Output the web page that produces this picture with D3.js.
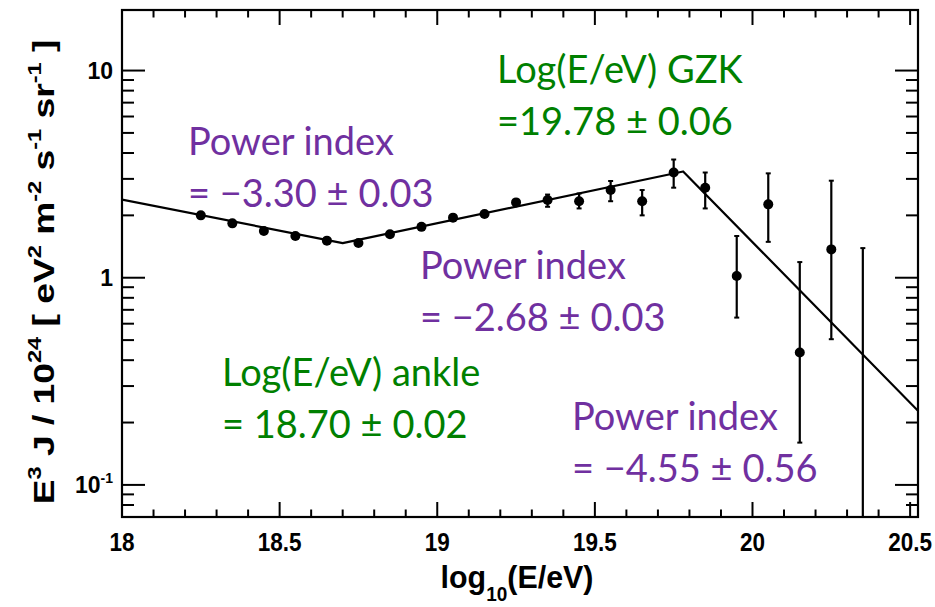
<!DOCTYPE html>
<html>
<head>
<meta charset="utf-8">
<script src="https://cdn.jsdelivr.net/npm/d3@7/dist/d3.min.js"></script>
<style>
  body { margin: 0; background: #fff; }
  svg { display: block; }
</style>
</head>
<body>
<svg id="chart" width="935" height="607"></svg>
<script>
// Energy bins, log10(E/eV)
const logE = [18.25, 18.35, 18.45, 18.55, 18.65, 18.75, 18.85, 18.95, 19.05, 19.15, 19.25,
              19.35, 19.45, 19.55, 19.65, 19.75, 19.85, 19.95, 20.05, 20.15, 20.25, 20.35];
// E^3 J / 10^24 [eV^2 m^-2 s^-1 sr^-1]
const flux = [2.00, 1.83, 1.68, 1.59, 1.51, 1.47, 1.62, 1.76, 1.95, 2.03, 2.31,
              2.37, 2.34, 2.65, 2.34, 3.22, 2.72, 1.02, 2.26, 0.436, 1.37, 0.05];
const fluxLow = [1.97, 1.80, 1.65, 1.56, 1.48, 1.44, 1.59, 1.73, 1.91, 1.98, 2.24,
                 2.20, 2.16, 2.34, 2.00, 2.72, 2.16, 0.642, 1.49, 0.160, 0.505, 0.01];
const fluxHigh = [2.03, 1.86, 1.71, 1.62, 1.54, 1.50, 1.65, 1.79, 1.99, 2.08, 2.38,
                  2.52, 2.55, 2.93, 2.65, 3.72, 3.22, 1.59, 3.19, 1.19, 2.94, 1.39];

// Broken power-law fit
const fitBreaks = [18.70, 19.78];          // ankle, GZK
const fitIndices = [-3.30, -2.68, -4.55];  // spectral indices of the three segments
const fitFluxAtAnkle = 1.47;

// Axes
const xRange = [18, 20.525];
const yRange = [0.07, 19.6];
const xTicks = [18, 18.5, 19, 19.5, 20, 20.5];
const xTickLabels = ["18", "18.5", "19", "19.5", "20", "20.5"];
const yTicks = [0.1, 1, 10];
const yTickLabels = [["10", "-1"], ["1", null], ["10", null]];

// Annotations
const notes = [
  { lines: ["Power index", "= \u22123.30 \u00b1 0.03"], color: "#7030a0", x: 188, y: 155 },
  { lines: ["Log(E/eV) GZK", "=19.78 \u00b1 0.06"], color: "#008000", x: 497, y: 83 },
  { lines: ["Power index", "= \u22122.68 \u00b1 0.03"], color: "#7030a0", x: 420, y: 279 },
  { lines: ["Log(E/eV) ankle", "= 18.70 \u00b1 0.02"], color: "#008000", x: 222, y: 386 },
  { lines: ["Power index", "= \u22124.55 \u00b1 0.56"], color: "#7030a0", x: 572, y: 430 }
];

const frame = { left: 122, top: 10, right: 918, bottom: 517 };

const svg = d3.select("#chart");

const x = d3.scaleLinear().domain(xRange).range([frame.left, frame.right]);
const y = d3.scaleLog().domain(yRange).range([frame.bottom, frame.top]);

const axisFont = "'Liberation Sans', Arial, Helvetica, sans-serif";
const noteFont = "Lato, 'Open Sans', sans-serif";

svg.append("defs").append("clipPath").attr("id", "plotClip")
  .append("rect")
  .attr("x", frame.left).attr("y", frame.top)
  .attr("width", frame.right - frame.left).attr("height", frame.bottom - frame.top);

// Fit curve
function fitValue(lx) {
  const [ankle, gzk] = fitBreaks;
  const s = fitIndices.map(g => 3 + g);
  const la = Math.log10(fitFluxAtAnkle);
  if (lx <= ankle) return Math.pow(10, la + s[0] * (lx - ankle));
  const lg = la + s[1] * (gzk - ankle);
  if (lx <= gzk) return Math.pow(10, la + s[1] * (lx - ankle));
  return Math.pow(10, lg + s[2] * (lx - gzk));
}
const fitX = [xRange[0], fitBreaks[0], fitBreaks[1], xRange[1]];
const plot = svg.append("g").attr("clip-path", "url(#plotClip)");

plot.append("path")
  .datum(fitX)
  .attr("fill", "none")
  .attr("stroke", "#000")
  .attr("stroke-width", 2.2)
  .attr("stroke-linejoin", "round")
  .attr("d", d3.line().x(d => x(d)).y(d => y(fitValue(d))));

// Data points with error bars
const pts = logE.map((e, i) => ({ e, v: flux[i], lo: fluxLow[i], hi: fluxHigh[i] }));
const eb = plot.append("g").selectAll("g").data(pts).join("g");
eb.append("line")
  .attr("x1", d => x(d.e)).attr("x2", d => x(d.e))
  .attr("y1", d => y(d.lo)).attr("y2", d => y(d.hi))
  .attr("stroke", "#000").attr("stroke-width", 2.2);
eb.append("line")
  .attr("x1", d => x(d.e) - 2.5).attr("x2", d => x(d.e) + 2.5)
  .attr("y1", d => y(d.hi)).attr("y2", d => y(d.hi))
  .attr("stroke", "#000").attr("stroke-width", 2);
eb.append("line")
  .attr("x1", d => x(d.e) - 2.5).attr("x2", d => x(d.e) + 2.5)
  .attr("y1", d => y(d.lo)).attr("y2", d => y(d.lo))
  .attr("stroke", "#000").attr("stroke-width", 2);
eb.append("circle")
  .attr("cx", d => x(d.e)).attr("cy", d => y(d.v))
  .attr("r", 5).attr("fill", "#000");

// Ticks (both sides)
const tickG = svg.append("g").attr("stroke", "#000").attr("stroke-width", 2);
const xMinor = d3.range(181, 206).map(v => v / 10).filter(v => Math.abs(v * 2 - Math.round(v * 2)) > 1e-6);
const xMajorLen = 15, xMinorLen = 7.5, yMajorLen = 23, yMinorLen = 12;
function xTick(v, len) {
  tickG.append("line").attr("x1", x(v)).attr("x2", x(v))
    .attr("y1", frame.bottom).attr("y2", frame.bottom - len);
  tickG.append("line").attr("x1", x(v)).attr("x2", x(v))
    .attr("y1", frame.top).attr("y2", frame.top + len);
}
xTicks.forEach(v => xTick(v, xMajorLen));
xMinor.forEach(v => xTick(v, xMinorLen));

const yMinor = [];
[0.01, 0.1, 1, 10].forEach(dec => {
  for (let k = 2; k <= 9; k++) {
    const v = dec * k;
    if (v > yRange[0] && v < yRange[1]) yMinor.push(v);
  }
});
function yTick(v, len) {
  tickG.append("line").attr("x1", frame.left).attr("x2", frame.left + len)
    .attr("y1", y(v)).attr("y2", y(v));
  tickG.append("line").attr("x1", frame.right).attr("x2", frame.right - len)
    .attr("y1", y(v)).attr("y2", y(v));
}
yTicks.forEach(v => yTick(v, yMajorLen));
yMinor.forEach(v => yTick(v, yMinorLen));

// Frame
svg.append("rect")
  .attr("x", frame.left).attr("y", frame.top)
  .attr("width", frame.right - frame.left).attr("height", frame.bottom - frame.top)
  .attr("fill", "none").attr("stroke", "#000").attr("stroke-width", 2.2);

// X tick labels
svg.append("g").selectAll("text").data(xTicks).join("text")
  .attr("transform", d => `translate(${x(d)},551) scale(0.9,1)`)
  .attr("text-anchor", "middle")
  .attr("font-family", axisFont).attr("font-weight", "bold").attr("font-size", 25)
  .text((d, i) => xTickLabels[i]);

// Y tick labels
const yl = svg.append("g").selectAll("text").data(yTicks).join("text")
  .attr("x", 113).attr("y", d => y(d) + 8.5)
  .attr("text-anchor", "end")
  .attr("font-family", axisFont).attr("font-weight", "bold").attr("font-size", 23);
yl.each(function (d, i) {
  const [base, sup] = yTickLabels[i];
  const t = d3.select(this);
  t.append("tspan").text(base);
  if (sup) t.append("tspan").attr("dy", -10).attr("font-size", 14).text(sup);
});

// Rich text helper: segments of [text, "sup" | "sub" | null]
function rich(sel, segs, size, supSize, supShift) {
  let shift = 0;
  segs.forEach(([t, kind]) => {
    const target = kind === "sup" ? -supShift : kind === "sub" ? supShift * 0.9 : 0;
    sel.append("tspan")
      .attr("dy", target - shift)
      .attr("font-size", kind ? supSize : size)
      .text(t);
    shift = target;
  });
}

// Axis titles
const xTitle = svg.append("text")
  .attr("transform", "translate(517,588) scale(0.95,1)")
  .attr("text-anchor", "middle")
  .attr("font-family", axisFont).attr("font-weight", "bold").attr("font-size", 32);
rich(xTitle, [["log", null], ["10", "sub"], ["(E/eV)", null]], 32, 20, 14);

const yTitle = svg.append("text")
  .attr("text-anchor", "middle")
  .attr("font-family", axisFont).attr("font-weight", "bold").attr("font-size", 30);
rich(yTitle, [
  ["E", null], ["3", "sup"], [" J / 10", null], ["24", "sup"],
  ["  [ eV", null], ["2", "sup"], [" m", null], ["-2", "sup"],
  [" s", null], ["-1", "sup"], [" sr", null], ["-1", "sup"], [" ]", null]
], 30, 19, 13);
const yTitleLen = yTitle.node().getComputedTextLength();
yTitle.attr("transform", `translate(54,272) rotate(-90) scale(${465 / yTitleLen},1)`);

// Annotations
notes.forEach(n => {
  const t = svg.append("text")
    .attr("font-family", noteFont).attr("font-size", 38)
    .attr("fill", n.color);
  n.lines.forEach((line, i) => {
    t.append("tspan").attr("x", n.x).attr("y", n.y + i * 52).text(line);
  });
});
</script>
</body>
</html>
